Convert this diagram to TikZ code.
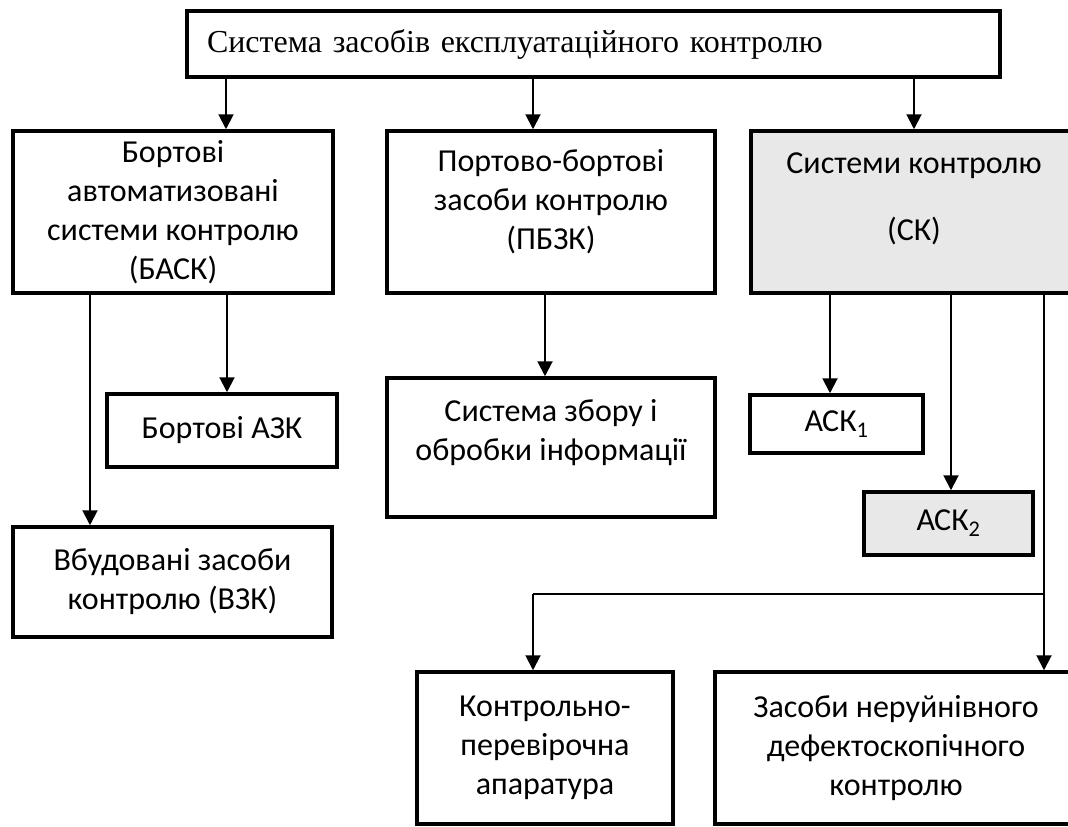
\documentclass[tikz,border=0pt]{standalone}
\usepackage{fontspec}
\setmainfont{Carlito}
\newfontfamily\timesfont{Liberation Serif}
\usetikzlibrary{arrows.meta}
\definecolor{skgrey}{HTML}{E8E8E8}
\tikzset{
	box/.style={draw, line width=3.5pt, align=center, inner sep=0pt, font=\fontsize{32}{39}\selectfont},
	greybox/.style={box, fill=skgrey},
	txt/.style={align=center, inner sep=0pt, font=\fontsize{32}{39}\selectfont},
	arr/.style={line width=2pt, -{Triangle[length=15pt, width=15pt]}},
	link/.style={line width=1.3pt}
}
\begin{document}
\begin{tikzpicture}[x=1pt, y=-1pt]
	\useasboundingbox (0,0) rectangle (1068,827);
	\clip (0,0) rectangle (1068,827);
	\node [box, minimum width=813pt, minimum height=66pt, text width=773pt, inner xsep=20pt, align=left, font=\timesfont\fontsize{32}{38}\selectfont] at (593.5,44) (top) {Система засобів експлуатаційного контролю};
	\node [box, minimum width=320pt, minimum height=162pt] at (173,212) (bask) {Бортові\\автоматизовані\\системи контролю\\(БАСК)};
	\node [box, minimum width=328pt, minimum height=162pt, label={[txt, yshift=10pt]center:{Портово-бортові\\засоби контролю\\(ПБЗК)}}] at (551,212) (pbzk) {};
	\node [greybox, minimum width=326pt, minimum height=162pt, label={[txt, yshift=13pt]center:{Системи контролю\\[28pt](СК)}}] at (914,212) (sk) {};
	\node [box, minimum width=230pt, minimum height=73pt] at (222,430.5) (bazk) {Бортові АЗК};
	\node [box, minimum width=319pt, minimum height=110pt] at (172.5,582) (vzk) {Вбудовані засоби\\контролю (ВЗК)};
	\node [box, minimum width=328pt, minimum height=139pt, label={[txt, yshift=15pt]center:{Система збору і\\обробки інформації}}] at (551,447.5) (szoi) {};
	\node [box, minimum width=173pt, minimum height=58pt] at (836.5,424) (ask1) {АСК\textsubscript{1}};
	\node [greybox, minimum width=169pt, minimum height=63pt] at (948.5,523.5) (ask2) {АСК\textsubscript{2}};
	\node [box, minimum width=256pt, minimum height=152pt] at (545,748) (kpa) {Контрольно-\\перевірочна\\апаратура};
	\node [box, minimum width=362pt, minimum height=152pt] at (896,748) (zndk) {Засоби неруйнівного\\дефектоскопічного\\контролю};
	\coordinate (split) at (1044,594);
	\coordinate (turn) at (533,594);
	\draw [arr] (top.south -| 226,0) -- (bask.north -| 226,0);
	\draw [arr] (top.south -| 533,0) -- (pbzk.north -| 533,0);
	\draw [arr] (top.south -| sk.north) -- (sk.north);
	\draw [arr] (bask.south -| 227,0) -- (bazk.north -| 227,0);
	\draw [arr] (bask.south -| 90,0) -- (vzk.north -| 90,0);
	\draw [arr] (pbzk.south -| 545,0) -- (szoi.north -| 545,0);
	\draw [arr] (sk.south -| 830,0) -- (ask1.north -| 830,0);
	\draw [arr] (sk.south -| 951,0) -- (ask2.north -| 951,0);
	\draw [arr] (sk.south -| split) -- (zndk.north -| split);
	\draw [link] (split) -- (turn);
	\draw [arr] (turn) -- (kpa.north -| turn);
\end{tikzpicture}
\end{document}
